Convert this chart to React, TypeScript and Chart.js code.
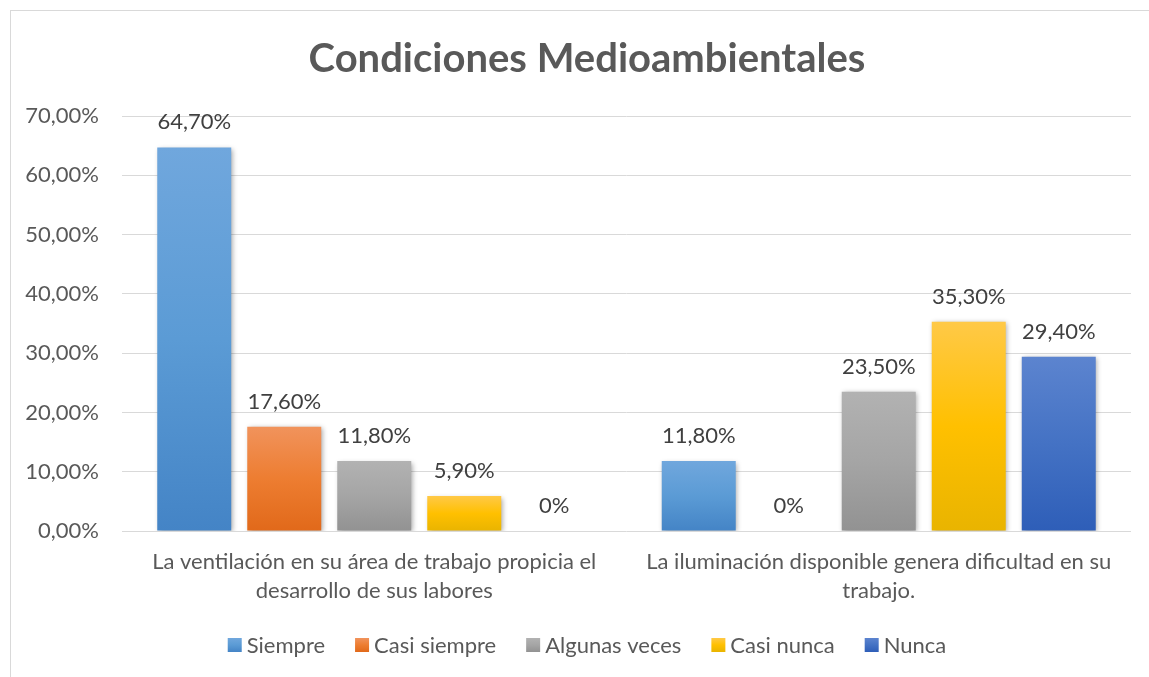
import React, { useEffect, useRef } from 'react';
import { Chart, registerables } from 'chart.js';

Chart.register(...registerables);

const chartTitle = 'Condiciones Medioambientales';
const categories: string[][] = [
  ['La ventilación en su área de trabajo propicia el', 'desarrollo de sus labores'],
  ['La iluminación disponible genera dificultad en su', 'trabajo.'],
];
const seriesNames = ['Siempre', 'Casi siempre', 'Algunas veces', 'Casi nunca', 'Nunca'];
const siempre = [64.7, 11.8];
const casiSiempre = [17.6, 0];
const algunasVeces = [11.8, 23.5];
const casiNunca = [5.9, 35.3];
const nunca = [0, 29.4];
const seriesValues = [siempre, casiSiempre, algunasVeces, casiNunca, nunca];
const yMin = 0;
const yMax = 70;
const yStep = 10;

const colorTop = ['#70a7dd', '#f1935c', '#b2b2b2', '#ffc947', '#5c84cf'];
const colorMid = ['#5b9bd5', '#ed7d31', '#a5a5a5', '#ffc000', '#4472c4'];
const colorBot = ['#4484c6', '#e1691a', '#929292', '#e9b400', '#2e5eb8'];

const FONT = 'Lato, "Open Sans", sans-serif';
const FRAME_CENTER_X = 587;

const fmtTick = (v: number) => v.toFixed(2).replace('.', ',') + '%';
const fmtLabel = (v: number) => (v === 0 ? '0%' : v.toFixed(2).replace('.', ',') + '%');

export default function App() {
  const ref = useRef<HTMLCanvasElement | null>(null);

  useEffect(() => {
    if (!ref.current) return;

    const framePlugin = {
      id: 'frame',
      beforeDraw(chart: any) {
        const ctx = chart.ctx;
        ctx.save();
        ctx.fillStyle = '#ffffff';
        ctx.fillRect(0, 0, chart.width, chart.height);
        ctx.strokeStyle = '#d9d9d9';
        ctx.lineWidth = 1;
        ctx.strokeRect(10.5, 10.5, chart.width + 40, chart.height + 40);
        // title
        ctx.font = `bold 40px ${FONT}`;
        ctx.fillStyle = '#595959';
        ctx.textAlign = 'center';
        ctx.textBaseline = 'alphabetic';
        ctx.fillText(chartTitle, FRAME_CENTER_X, 72);
        ctx.restore();
      },
      beforeDatasetsDraw(chart: any) {
        const ctx = chart.ctx;
        ctx.save();
        ctx.shadowColor = 'rgba(0,0,0,0.35)';
        ctx.shadowBlur = 5;
        ctx.shadowOffsetX = 1.5;
        ctx.shadowOffsetY = 1.5;
      },
      afterDatasetsDraw(chart: any) {
        const ctx = chart.ctx;
        ctx.restore();
        ctx.save();
        ctx.font = `22px ${FONT}`;
        ctx.fillStyle = '#404040';
        ctx.textAlign = 'center';
        ctx.textBaseline = 'alphabetic';
        chart.data.datasets.forEach((ds: any, di: number) => {
          const meta = chart.getDatasetMeta(di);
          meta.data.forEach((el: any, i: number) => {
            const v = ds.data[i] as number;
            ctx.fillText(fmtLabel(v), el.x, el.y - 18);
          });
        });
        ctx.restore();
      },
      afterDraw(chart: any) {
        // legend
        const ctx = chart.ctx;
        ctx.save();
        ctx.font = `22px ${FONT}`;
        const box = 14;
        const gapText = 5;
        const gapItem = 30;
        const widths = seriesNames.map((n) => ctx.measureText(n).width);
        const total =
          widths.reduce((a, w) => a + box + gapText + w, 0) + gapItem * (seriesNames.length - 1);
        let x = FRAME_CENTER_X - total / 2;
        const cy = 645;
        ctx.textBaseline = 'middle';
        ctx.textAlign = 'left';
        seriesNames.forEach((n, i) => {
          const g = ctx.createLinearGradient(0, cy - box / 2, 0, cy + box / 2);
          g.addColorStop(0, colorTop[i]);
          g.addColorStop(0.5, colorMid[i]);
          g.addColorStop(1, colorBot[i]);
          ctx.fillStyle = g;
          ctx.fillRect(x, cy - box / 2, box, box);
          ctx.fillStyle = '#595959';
          ctx.fillText(n, x + box + gapText, cy + 1);
          x += box + gapText + widths[i] + gapItem;
        });
        ctx.restore();
      },
    };

    const datasets = seriesNames.map((name, si) => ({
      label: name,
      data: seriesValues[si],
      borderWidth: 0,
      categoryPercentage: 0.892,
      barPercentage: 0.822,
      backgroundColor: (c: any) => {
        if (c.type !== 'data') return colorMid[si];
        const chart = c.chart;
        const ys = chart.scales && chart.scales.y;
        if (!ys || !chart.chartArea) return colorMid[si];
        const top = ys.getPixelForValue(c.raw);
        const base = ys.getPixelForValue(0);
        if (base - top < 1) return colorMid[si];
        const g = chart.ctx.createLinearGradient(0, top, 0, base);
        g.addColorStop(0, colorTop[si]);
        g.addColorStop(0.5, colorMid[si]);
        g.addColorStop(1, colorBot[si]);
        return g;
      },
    }));

    const chart = new Chart(ref.current, {
      type: 'bar',
      data: { labels: categories, datasets },
      options: {
        animation: false,
        responsive: false,
        maintainAspectRatio: false,
        layout: { padding: { left: 0, right: 18, top: 116, bottom: 46 } },
        plugins: {
          title: { display: false },
          legend: { display: false },
          tooltip: { enabled: false },
        },
        scales: {
          x: {
            grid: { display: false },
            border: { display: false },
            ticks: {
              color: '#595959',
              font: { family: FONT, size: 22, lineHeight: 1.32 },
              padding: 8,
              maxRotation: 0,
              autoSkip: false,
            },
            afterFit: (s: any) => {
              s.height = 100;
            },
          },
          y: {
            min: yMin,
            max: yMax,
            border: { display: false },
            grid: { color: '#d9d9d9', lineWidth: 1, drawTicks: false },
            ticks: {
              stepSize: yStep,
              color: '#595959',
              font: { family: FONT, size: 22 },
              padding: 23,
              callback: (v: any) => fmtTick(Number(v)),
            },
            afterFit: (s: any) => {
              s.width = 122;
            },
          },
        },
      },
      plugins: [framePlugin],
    } as any);

    return () => chart.destroy();
  }, []);

  return (
    <div style={{ position: 'absolute', left: 0, top: 0, width: 1149, height: 677 }}>
      <canvas ref={ref} width={1149} height={677} style={{ display: 'block' }} />
    </div>
  );
}
